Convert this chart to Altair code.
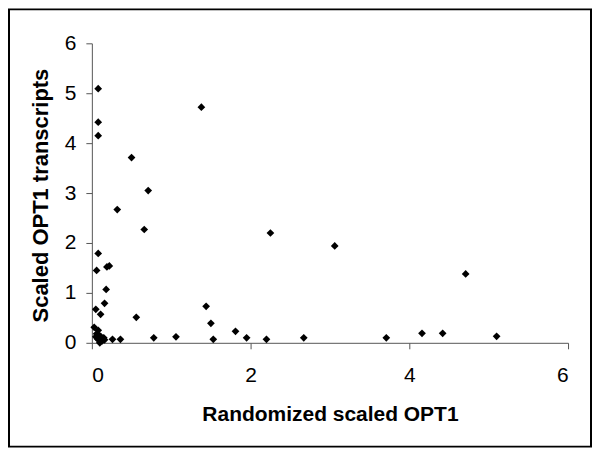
import altair as alt
import pandas as pd

x_vals = [0.08, 0.08, 0.08, 1.38, 0.50, 0.71, 0.32, 0.66, 2.25, 3.06, 4.71,
          0.08, 0.06, 0.19, 0.22, 0.18, 0.16, 0.05, 0.11, 0.56, 1.44, 1.50,
          0.03, 0.08, 1.81, 4.16, 4.42, 1.06, 5.10, 0.78, 1.95, 2.67, 3.71,
          2.20, 1.53, 0.26, 0.36,
          0.05, 0.07, 0.09, 0.10, 0.12, 0.14, 0.11, 0.10, 0.15, 0.06,
          0.13, 0.08, 0.16]
y_vals = [5.09, 4.42, 4.15, 4.72, 3.71, 3.05, 2.67, 2.27, 2.20, 1.94, 1.38,
          1.79, 1.45, 1.52, 1.54, 1.07, 0.79, 0.67, 0.57, 0.51, 0.73, 0.39,
          0.31, 0.25, 0.23, 0.19, 0.19, 0.12, 0.13, 0.10, 0.10, 0.10, 0.10,
          0.07, 0.07, 0.07, 0.07,
          0.12, 0.08, 0.15, 0.05, 0.10, 0.07, 0.13, 0.00, 0.10, 0.18,
          0.04, 0.10, 0.06]

x_ticks = [0, 2, 4, 6]
y_ticks = [0, 1, 2, 3, 4, 5, 6]

df = pd.DataFrame({"x": x_vals, "y": y_vals})

FONT = "Liberation Sans"
AXIS_COLOR = "#555555"

points = alt.Chart(df).mark_point(
    shape="diamond", filled=True, color="black", size=60, opacity=1
).encode(
    x=alt.X("x:Q",
            scale=alt.Scale(domain=[0, 6], nice=False, zero=True),
            axis=alt.Axis(values=x_ticks, title="Randomized scaled OPT1",
                          grid=False, tickSize=6, labelPadding=16,
                          labelFontSize=21, labelFont=FONT, labelColor="black",
                          domainColor=AXIS_COLOR, tickColor=AXIS_COLOR,
                          titleFont=FONT, titleFontSize=21, titleFontWeight="bold",
                          titleColor="black", titleY=61)),
    y=alt.Y("y:Q",
            scale=alt.Scale(domain=[0, 6], nice=False, zero=True),
            axis=alt.Axis(values=y_ticks, title="Scaled OPT1 transcripts",
                          grid=False, tickSize=6, labelPadding=10,
                          labelFontSize=21, labelFont=FONT, labelColor="black",
                          domainColor=AXIS_COLOR, tickColor=AXIS_COLOR,
                          titleFont=FONT, titleFontSize=22, titleFontWeight="bold",
                          titleColor="black", titleX=-39, titleY=152)),
)

border = alt.Chart(pd.DataFrame({"a": [0]})).mark_rect(
    fillOpacity=0, stroke="black", strokeWidth=2
).encode(
    x=alt.value(-83), x2=alt.value(500),
    y=alt.value(-34), y2=alt.value(404),
)

chart = alt.layer(points, border).properties(
    width=477, height=300,
    autosize=alt.AutoSizeParams(type="none"),
    padding={"left": 84, "top": 35, "right": 24, "bottom": 105},
    background="white",
).configure_view(stroke=None)

chart.save("out.html", embed_options={"renderer": "svg", "actions": False})
